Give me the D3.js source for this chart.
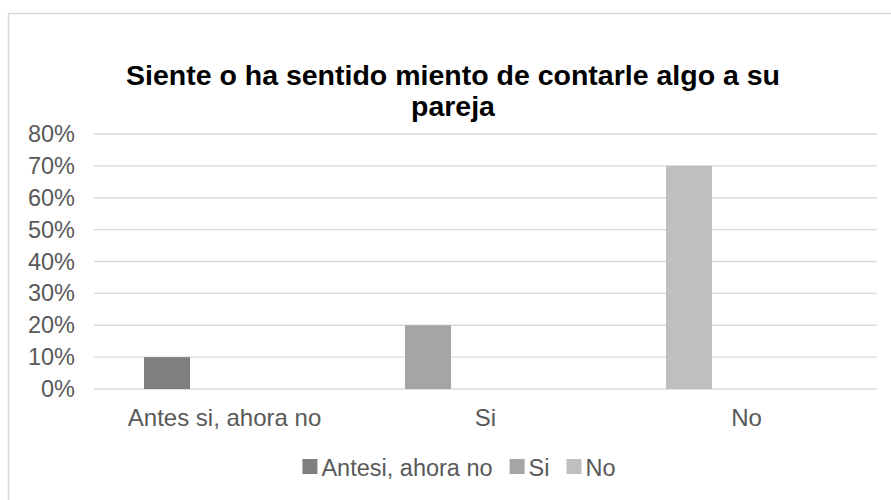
<!DOCTYPE html>
<html>
<head>
<meta charset="utf-8">
<script src="https://cdn.jsdelivr.net/npm/d3@7"></script>
<style>
  html, body { margin: 0; padding: 0; background: #fff; }
  svg { display: block; }
  text { font-family: "Liberation Sans", Arial, sans-serif; }
</style>
</head>
<body>
<svg id="chart" width="891" height="500"></svg>
<script>
// ---- data ----
const titleLines = ["Siente o ha sentido miento de contarle algo a su", "pareja"];
const categories = ["Antes si, ahora no", "Si", "No"];
const values = [0.10, 0.20, 0.70];
const seriesNames = ["Antesi, ahora no", "Si", "No"];
const seriesColors = ["#7f7f7f", "#a5a5a5", "#bfbfbf"];
const yTicks = [0, 0.1, 0.2, 0.3, 0.4, 0.5, 0.6, 0.7, 0.8];

// ---- layout ----
const svg = d3.select("#chart");
const plot = { left: 94, right: 877, top: 134, bottom: 389 };

// chart border
svg.append("rect")
  .attr("x", 8.5).attr("y", 13.5)
  .attr("width", 910).attr("height", 520)
  .attr("fill", "#fff").attr("stroke", "#d9d9d9").attr("stroke-width", 1.5);

const x0 = d3.scaleBand().domain(categories).range([plot.left, plot.right]).padding(0);
const y = d3.scaleLinear().domain([0, 0.8]).range([plot.bottom, plot.top]);
const color = d3.scaleOrdinal().domain(categories).range(seriesColors);

// gridlines
svg.append("g").selectAll("line").data(yTicks).join("line")
  .attr("x1", plot.left).attr("x2", plot.right)
  .attr("y1", d => y(d)).attr("y2", d => y(d))
  .attr("stroke", "#d9d9d9").attr("stroke-width", 1.3);

// y axis labels
const yAxis = d3.axisLeft(y).tickValues(yTicks).tickFormat(d3.format(".0%")).tickSize(0).tickPadding(0);
const gy = svg.append("g").attr("transform", "translate(75,0)").call(yAxis);
gy.select(".domain").remove();
gy.selectAll("text")
  .attr("font-size", 23.5).attr("fill", "#595959")
  .attr("font-family", "'Liberation Sans', Arial, sans-serif");

// bars
const bw = x0.bandwidth();
svg.append("g").selectAll("rect").data(categories).join("rect")
  .attr("x", (d) => x0(d) + bw * 0.1916)
  .attr("width", bw * 0.1762)
  .attr("y", (d, i) => y(values[i]))
  .attr("height", (d, i) => y(0) - y(values[i]))
  .attr("fill", d => color(d));

// x axis labels
const xAxis = d3.axisBottom(x0).tickSize(0).tickPadding(0);
const gx = svg.append("g").attr("transform", `translate(0,${plot.bottom + 20})`).call(xAxis);
gx.select(".domain").remove();
gx.selectAll("text")
  .attr("font-size", 24).attr("fill", "#595959")
  .attr("font-family", "'Liberation Sans', Arial, sans-serif");

// title
const title = svg.append("text")
  .attr("text-anchor", "middle")
  .attr("font-size", 28.5).attr("font-weight", "bold").attr("fill", "#000");
titleLines.forEach((t, i) => {
  title.append("tspan").attr("x", 453).attr("y", 85 + i * 31).text(t);
});

// legend
const legend = svg.append("g");
let lx = 0;
seriesNames.forEach((name, i) => {
  const g = legend.append("g").attr("transform", `translate(${lx},0)`);
  g.append("rect").attr("x", 0).attr("y", -8).attr("width", 15).attr("height", 15).attr("fill", seriesColors[i]);
  const t = g.append("text").attr("x", 19).attr("y", 8.5)
    .attr("font-size", 23.5).attr("fill", "#595959").text(name);
  const w = t.node().getComputedTextLength();
  lx += 19 + w + 17;
});
const totalW = lx - 17;
legend.attr("transform", `translate(${459 - totalW / 2},467)`);
</script>
</body>
</html>
